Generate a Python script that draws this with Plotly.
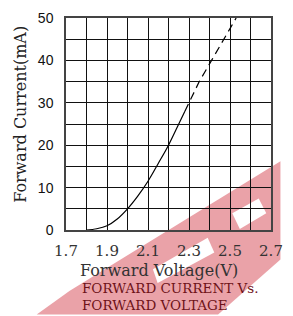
import plotly.graph_objects as go

# ---- data ----
volt_solid = [1.80, 1.85, 1.90, 1.95, 2.00, 2.05, 2.10, 2.15, 2.20, 2.25, 2.28]
curr_solid = [0.0, 0.3, 1.0, 2.6, 5.0, 8.0, 11.5, 15.7, 20.0, 25.0, 28.0]
volt_dash = [2.28, 2.30, 2.35, 2.41, 2.47, 2.53]
curr_dash = [28.0, 30.0, 35.0, 40.0, 45.0, 50.0]

x_tickvals = [1.7, 1.8, 1.9, 2.0, 2.1, 2.2, 2.3, 2.4, 2.5, 2.6, 2.7]
x_ticktext = ["1.7", "", "1.9", "", "2.1", "", "2.3", "", "2.5", "", "2.7"]
y_tickvals = [0, 5, 10, 15, 20, 25, 30, 35, 40, 45, 50]
y_ticktext = ["0", "", "10", "", "20", "", "30", "", "40", "", "50"]

x_title = "Forward Voltage(V)"
y_title = "Forward Current(mA)"
caption = ["FORWARD CURRENT Vs.", "FORWARD VOLTAGE"]

W, H = 293, 316
ML, MR, MT, MB = 66, 10, 14, 86
PW, PH = W - ML - MR, H - MT - MB


def px(x):
    return (x - ML) / PW


def py(y):
    return (H - MB - y) / PH


def poly(pts):
    s = "M " + " L ".join(f"{px(x):.4f},{py(y):.4f}" for x, y in pts) + " Z"
    return s


serif = "DejaVu Serif, Liberation Serif, serif"
sans = "Liberation Sans, Arial, sans-serif"

fig = go.Figure()
fig.add_trace(go.Scatter(x=volt_solid, y=curr_solid, mode="lines",
                         line=dict(color="black", width=1.2, shape="spline"),
                         showlegend=False, hoverinfo="skip"))
fig.add_trace(go.Scatter(x=volt_dash, y=curr_dash, mode="lines",
                         line=dict(color="black", width=1.2, dash="8px,5px"),
                         showlegend=False, hoverinfo="skip"))

pink = "rgb(234,162,168)"
shapes = [
    dict(type="path", xref="paper", yref="paper", layer="below",
         path=poly([(35, 316), (70, 292), (293, 160), (293, 260), (227, 316)]),
         fillcolor=pink, line=dict(width=0)),
    dict(type="path", xref="paper", yref="paper", layer="below",
         path=poly([(158, 270), (216, 238), (223, 253), (163, 284)]),
         fillcolor="white", line=dict(width=0)),
    dict(type="path", xref="paper", yref="paper", layer="below",
         path=poly([(242, 213), (270, 198), (278, 213), (250, 229)]),
         fillcolor="white", line=dict(width=0)),
]

annotations = [
    dict(text=x_title, xref="paper", yref="paper", x=px(164), y=py(271),
         xanchor="center", yanchor="middle", showarrow=False,
         font=dict(family=serif, size=16, color="#333333")),
    dict(text=caption[0], xref="paper", yref="paper", x=px(81), y=py(289),
         xanchor="left", yanchor="middle", showarrow=False,
         font=dict(family=serif, size=13.5, color="#6e1218")),
    dict(text=caption[1], xref="paper", yref="paper", x=px(81), y=py(306),
         xanchor="left", yanchor="middle", showarrow=False,
         font=dict(family=serif, size=13.5, color="#6e1218")),
    dict(text=y_title, xref="paper", yref="paper", x=px(18), y=py(112),
         xanchor="center", yanchor="middle", showarrow=False, textangle=-90,
         font=dict(family=serif, size=16, color="#222222")),
]

fig.update_layout(
    width=W, height=H,
    margin=dict(l=ML, r=MR, t=MT, b=MB, pad=0),
    paper_bgcolor="white", plot_bgcolor="rgba(0,0,0,0)",
    shapes=shapes, annotations=annotations,
    xaxis=dict(range=[1.7, 2.7], tickvals=x_tickvals, ticktext=x_ticktext,
               showgrid=True, gridcolor="#111111", gridwidth=1,
               showline=True, linecolor="#444444", linewidth=1.5, mirror=True,
               zeroline=False, ticks="", ticklabelstandoff=6,
               tickfont=dict(family=serif, size=15, color="#333333")),
    yaxis=dict(range=[0, 50], tickvals=y_tickvals, ticktext=y_ticktext,
               showgrid=True, gridcolor="#111111", gridwidth=1,
               showline=True, linecolor="#444444", linewidth=1.5, mirror=True,
               zeroline=False, ticks="", ticklabelstandoff=8,
               tickfont=dict(family=sans, size=14, color="#111111")),
)

fig.write_html("out.html", config={"displayModeBar": False},
               post_script="document.body.style.margin='0';document.body.style.padding='0';")
